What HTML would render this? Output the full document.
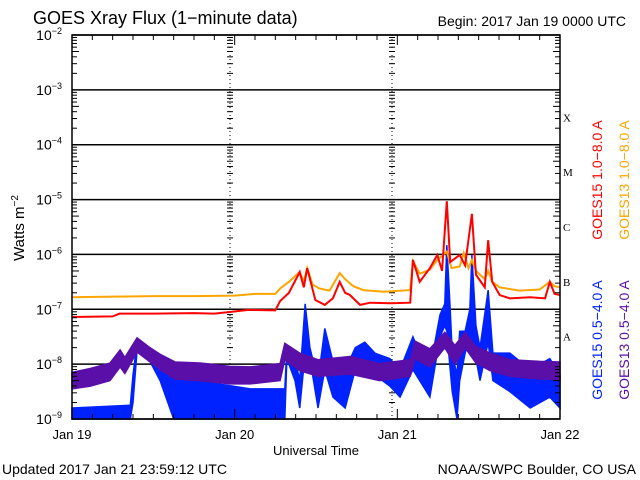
<!DOCTYPE html>
<html><head><meta charset="utf-8"><style>
html,body{margin:0;padding:0;background:#fff;}
svg{display:block;font-family:"Liberation Sans",sans-serif;}
</style></head><body>
<svg id="c" width="640" height="480" viewBox="0 0 640 480">
<text x="33" y="24" font-size="18">GOES Xray Flux (1−minute data)</text>
<text x="626" y="26" font-size="14" text-anchor="end">Begin:  2017 Jan 19 0000 UTC</text>
<text transform="translate(24,228) rotate(-90)" font-size="15" text-anchor="middle">Watts m<tspan font-size="10" dy="-6">−2</tspan></text>
<text x="316" y="455" font-size="13" text-anchor="middle">Universal Time</text>
<text x="2" y="474" font-size="14">Updated 2017 Jan 21 23:59:12 UTC</text>
<text x="636" y="474" font-size="14" text-anchor="end">NOAA/SWPC Boulder, CO USA</text>
<text transform="translate(602,180) rotate(-90)" font-size="14" fill="#ff0000" text-anchor="middle">GOES15 1.0−8.0 A</text>
<text transform="translate(629,180) rotate(-90)" font-size="14" fill="#ffa500" text-anchor="middle">GOES13 1.0−8.0 A</text>
<text transform="translate(602,340) rotate(-90)" font-size="14" fill="#0022ff" text-anchor="middle">GOES15 0.5−4.0 A</text>
<text transform="translate(629,340) rotate(-90)" font-size="14" fill="#5a0fa8" text-anchor="middle">GOES13 0.5−4.0 A</text>
<g id="grid"></g>
<g id="series"></g>
<g id="axes"></g>
</svg>
<script>
const dayLabels=["Jan 19","Jan 20","Jan 21","Jan 22"];
const decadeExps=[-2,-3,-4,-5,-6,-7,-8,-9];
const classLabels=["X","M","C","B","A"];
const classExps=[-3.5,-4.5,-5.5,-6.5,-7.5];

const orangeT=[0,6,12,18,24,27,30,30.7,32,33.6,34.2,34.7,35.5,36.5,38,39.5,40.3,41.5,43,46,49.9,50.3,51.3,52.8,53.9,55.3,56,57.2,57.8,58.5,59,59.6,60.9,61.4,62,63.1,66,69,70.5,71.2,72];
const orangeV=[-6.78,-6.77,-6.76,-6.76,-6.75,-6.72,-6.72,-6.62,-6.5,-6.32,-6.5,-6.25,-6.55,-6.62,-6.66,-6.34,-6.45,-6.58,-6.65,-6.68,-6.65,-6.12,-6.35,-6.28,-6.1,-5.95,-6.25,-6.22,-5.97,-6.25,-6.1,-6.3,-6.45,-6.3,-6.5,-6.6,-6.66,-6.64,-6.5,-6.58,-6.6];
const redT=[0,6,7,12,18,21,23.3,26,30,30.7,32,33.6,34.2,34.7,35.9,37.3,38.5,39.5,40.3,41,42.5,44,47,49.9,50.3,51.3,52.8,53.9,54.6,55.3,55.8,57.2,58,59,59.6,60.9,61.4,62,63.1,64.6,67.6,69.8,70.5,71.2,72];
const redV=[-7.14,-7.13,-7.08,-7.08,-7.07,-7.08,-7.05,-7.01,-7.02,-6.85,-6.7,-6.32,-6.6,-6.25,-6.83,-6.92,-6.8,-6.5,-6.7,-6.74,-6.92,-6.88,-6.89,-6.88,-6.1,-6.5,-6.25,-6.01,-6.3,-5.03,-6.14,-6.01,-6.2,-5.26,-6.37,-6.6,-5.74,-6.5,-6.74,-6.8,-6.78,-6.8,-6.5,-6.72,-6.74];
const purpleT=[0,2.7,5.6,7.1,7.8,9.6,11.5,13,15.2,18.9,23.3,26.3,30.7,31.4,33.6,36.3,41,45.4,47.2,49.9,50.6,52.8,55,56.5,58,59.6,61.7,64.6,69,72];
const purpleHi=[-8.15,-8.08,-7.98,-7.74,-7.88,-7.52,-7.7,-7.82,-7.96,-7.98,-8.04,-8.05,-7.99,-7.62,-7.8,-7.92,-7.86,-7.99,-7.96,-7.92,-7.58,-7.72,-7.42,-7.66,-7.42,-7.68,-7.8,-7.92,-7.95,-7.96];
const purpleLo=[-8.45,-8.4,-8.3,-8.05,-8.17,-7.78,-7.96,-8.1,-8.27,-8.3,-8.36,-8.36,-8.3,-7.92,-8.12,-8.22,-8.18,-8.3,-8.27,-8.22,-7.9,-8.05,-7.7,-8.0,-7.7,-7.98,-8.12,-8.22,-8.27,-8.28];
const blueT=[0,8.6,9,9.6,11.5,13,15,18.9,21.1,26.3,31.4,31.7,32.9,33.6,34.4,35.1,36.3,37.3,38.5,40.3,41.8,43.2,44.7,46.9,48.4,50.3,51.3,52.8,54.3,55,55.3,55.8,56.1,56.8,57.2,58,58.7,59,59.6,60.2,61.4,62.1,64.6,67.6,70.5,72];
const blueHi=[-8.8,-8.75,-8.2,-7.6,-7.78,-7.9,-8.2,-8.3,-8.35,-8.45,-8.45,-7.72,-7.9,-8.3,-6.9,-7.7,-8.3,-7.35,-7.95,-8.1,-7.7,-7.6,-7.8,-7.9,-8.1,-7.5,-7.8,-8.1,-7.1,-6.9,-5.83,-7.0,-7.8,-8.2,-7.4,-7.4,-7.0,-6.01,-7.3,-7.7,-6.65,-7.8,-7.8,-8.1,-7.9,-8.2];
const blueLo=[-9,-9,-8.7,-7.75,-7.95,-8.3,-9,-9,-9,-9,-9,-7.9,-8.3,-8.8,-7.8,-7.9,-8.8,-8.1,-8.6,-8.8,-8.1,-8.0,-8.2,-8.4,-8.6,-8.1,-8.3,-8.6,-7.5,-7.3,-7.4,-8.1,-8.5,-9,-8.3,-7.8,-7.5,-7.6,-7.9,-8.3,-7.6,-8.3,-8.5,-8.8,-8.6,-8.8];

const L=72,R=560,T=35,B=419;
const x=h=>L+h/72*(R-L);
const y=e=>T+(-2-e)/7*(B-T);
const NS="http://www.w3.org/2000/svg";
function mk(tag,parent,attrs){const el=document.createElementNS(NS,tag);for(const k in attrs)el.setAttribute(k,attrs[k]);parent.appendChild(el);return el;}
const grid=document.getElementById('grid'),ser=document.getElementById('series'),ax=document.getElementById('axes');

decadeExps.forEach(e=>{
  const ln=mk('line',grid,{x1:L,x2:R,y1:y(e),y2:y(e),stroke:'#000','stroke-width':1.5});
  
  
  const t=mk('text',ax,{x:L-10,y:y(e)+5,'font-size':14,'text-anchor':'end'});
  
  
  t.textContent='10';
  const s=mk('tspan',t,{'font-size':9,dy:-6});s.textContent=String(e).replace('-','−');
  if(e>-9){for(let m=2;m<=9;m++){const yy=y(e-1+Math.log10(m));
    mk('line',ax,{x1:L,x2:L+(m==5?7:5),y1:yy,y2:yy,stroke:'#000'});
    mk('line',ax,{x1:R,x2:R-(m==5?7:5),y1:yy,y2:yy,stroke:'#000'});
    [230,392].forEach(dx=>mk('line',grid,{x1:dx-3,x2:dx+3,y1:yy,y2:yy,stroke:'#000'}));}}
});
[230,392].forEach(dx=>{const ln=mk('line',grid,{x1:dx,x2:dx,y1:T,y2:B,stroke:'#000','stroke-dasharray':'1 3'});
  
  });
dayLabels.forEach((d,i)=>{
  const t=mk('text',ax,{x:x(i*24),y:439,'font-size':13,'text-anchor':'middle'});
  
  
  t.textContent=d;
});
for(let h=0;h<=72;h+=3){const len=h%24==0?10:5;
  mk('line',ax,{x1:x(h),x2:x(h),y1:B,y2:B-len,stroke:'#000'});
  mk('line',ax,{x1:x(h),x2:x(h),y1:T,y2:T+len,stroke:'#000'});}
classLabels.forEach((c,i)=>{const t=mk('text',ax,{x:R+3,y:y(classExps[i])+4,'font-size':11,'font-family':'Liberation Serif'});
  
  
  t.textContent=c;});
const fr=mk('rect',ax,{x:L,y:T,width:R-L,height:B-T,fill:'none',stroke:'#000','stroke-width':1.5});



function line(ts,vs,col,w,name){
  const p=mk('polyline',ser,{points:ts.map((t,i)=>x(t)+','+y(vs[i])).join(' '),fill:'none',stroke:col,'stroke-width':w,'stroke-linejoin':'miter'});
  
  
}
function band(ts,hi,lo,col,name){
  const pts=ts.map((t,i)=>x(t)+','+y(hi[i])).concat(ts.map((t,i)=>x(t)+','+y(lo[i])).reverse());
  const p=mk('polygon',ser,{points:pts.join(' '),fill:col,stroke:col,'stroke-width':1.5});
  
  
}
band(blueT,blueHi,blueLo,'#0022ff','goes15-short-series');
band(purpleT,purpleHi,purpleLo,'#5a0fa8','goes13-short-series');
line(orangeT,orangeV,'#ffa500',2,'goes13-long-series');
line(redT,redV,'#ff0000',2,'goes15-long-series');
</script>
</body></html>
